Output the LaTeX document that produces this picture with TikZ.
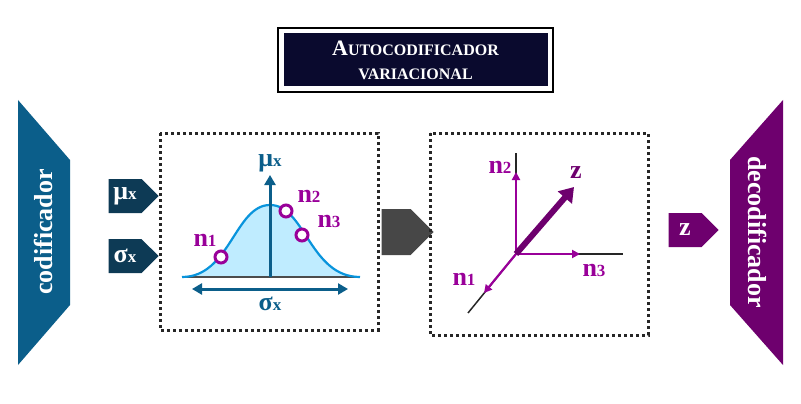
\documentclass[tikz,border=0pt]{standalone}
\usepackage{fontspec}
\setmainfont{Liberation Serif}
\usetikzlibrary{arrows.meta,shapes.arrows}
\definecolor{enc}{HTML}{0B5E8A}
\definecolor{navy}{HTML}{0D3A55}
\definecolor{pur}{HTML}{990099}
\definecolor{dpur}{HTML}{6E006E}
\definecolor{titlebg}{HTML}{0A0A2E}
\newcommand{\fsc}[2]{#1{\fontsize{14}{14}\selectfont #2}}
\begin{document}
\begin{tikzpicture}[x=1pt,y=-1pt,
  dotbox/.style={draw=black!85,line width=3pt,dash pattern=on 3pt off 3pt},
  barrow/.style={single arrow,minimum height=50pt,minimum width=34pt,single arrow head extend=0pt,inner sep=2pt,text=white,font=\bfseries\fontsize{26}{26}\selectfont},
  lab/.style={font=\bfseries\fontsize{26}{26}\selectfont},
  plab/.style={lab,text=pur},
  sub/.style={},
  pc/.style={draw=pur,line width=3pt,fill=white}]
\useasboundingbox (0,0) rectangle (801,404);
% title
\node[draw=black,line width=2pt,minimum width=275pt,minimum height=64pt,inner sep=0pt] (tout) at (415.5,60) {};
\node[fill=titlebg,minimum width=264pt,minimum height=53pt,align=center,text=white,font=\bfseries\fontsize{22}{24}\selectfont] (title) at (415.5,60) {A{\fontsize{16}{16}\selectfont UTOCODIFICADOR}\\{\fontsize{16}{16}\selectfont VARIACIONAL}};
% encoder
\fill[enc] (18,100) -- (70,160) -- (70,305) -- (18,365) -- cycle;
\node[rotate=90,text=white,lab] (enc) at (43,232) {codificador};
% decoder
\fill[dpur] (783,100) -- (730,160) -- (730,305) -- (783,365) -- cycle;
\node[rotate=-90,text=white,lab] (dec) at (758,232) {decodificador};
% mu sigma arrows
\node[barrow,fill=navy] (mu) at (125,196) {μ{\fontsize{17}{17}\selectfont x}};
\node[barrow,fill=navy] (sig) at (125,256) {σ{\fontsize{17}{17}\selectfont x}};
% box1
\draw[dotbox] (160,133) rectangle (378,330);
\fill[blue!30!cyan!25] (182,277) .. controls (230,277) and (235,205) .. (270,205) .. controls (305,205) and (310,277) .. (360,277) -- cycle;
\draw[black!70,line width=1.5pt] (182,277) -- (360,277);
\draw[cyan!80!blue,line width=2.2pt] (182,277) .. controls (230,277) and (235,205) .. (270,205) .. controls (305,205) and (310,277) .. (360,277);
\coordinate (o1) at (270,277);
\coordinate (top1) at (270,175);
\draw[enc,line width=3pt,-{Triangle[length=10pt,width=11pt]}] (o1) -- (top1);
\coordinate (l1) at (192,289); \coordinate (r1) at (348,289);
\draw[enc,line width=3pt,{Triangle[length=10pt,width=11pt]}-{Triangle[length=10pt,width=11pt]}] (l1) -- (r1);
\node[text=enc,lab] (mulab) at (270,163) {μ{\fontsize{17}{17}\selectfont x}};
\node[text=enc,lab] (siglab) at (270,304) {σ{\fontsize{17}{17}\selectfont x}};
\node[pc,circle,minimum size=12pt,inner sep=0pt] (c1) at (221,257) {};
\node[pc,circle,minimum size=12pt,inner sep=0pt] (c2) at (286,211) {};
\node[pc,circle,minimum size=12pt,inner sep=0pt] (c3) at (302,235) {};
\node[plab] (n1a) at (205,240) {n{\fontsize{17}{17}\selectfont 1}};
\node[plab] (n2a) at (309,196) {n{\fontsize{17}{17}\selectfont 2}};
\node[plab] (n3a) at (329,221) {n{\fontsize{17}{17}\selectfont 3}};
% middle arrow
\node[single arrow,fill=black!72,minimum height=52pt,minimum width=46pt,single arrow head extend=0pt] (mid) at (396,232) {};
% box2
\draw[dotbox] (430,133) rectangle (648,335);
\coordinate (o) at (516,254);
\coordinate (ya) at (516,153); \coordinate (xa) at (623,254); \coordinate (za) at (468,313);
\draw[black!85,line width=1.5pt] (o) -- (ya); \draw[black!85,line width=1.5pt] (o) -- (xa); \draw[black!85,line width=1.5pt] (o) -- (za);
\coordinate (yp) at (516,172); \coordinate (xp) at (580,254); \coordinate (zp) at (484,293);
\draw[pur,line width=2.2pt,-{Triangle[length=8pt,width=8pt]}] (o) -- (yp);
\draw[pur,line width=2.2pt,-{Triangle[length=8pt,width=8pt]}] (o) -- (xp);
\draw[pur,line width=2.2pt,-{Triangle[length=8pt,width=8pt]}] (o) -- (zp);
\coordinate (zt) at (574,187);
\draw[dpur,line width=6pt,-{Triangle[length=14pt,width=18pt]}] (o) -- (zt);
\node[lab,text=dpur] (zl) at (576,173) {z};
\node[plab] (n2b) at (500,167) {n{\fontsize{17}{17}\selectfont 2}};
\node[plab] (n3b) at (594,270) {n{\fontsize{17}{17}\selectfont 3}};
\node[plab] (n1b) at (464,279) {n{\fontsize{17}{17}\selectfont 1}};
% z arrow
\node[barrow,fill=dpur] (zarr) at (685,230) {z};
\end{tikzpicture}
\end{document}
